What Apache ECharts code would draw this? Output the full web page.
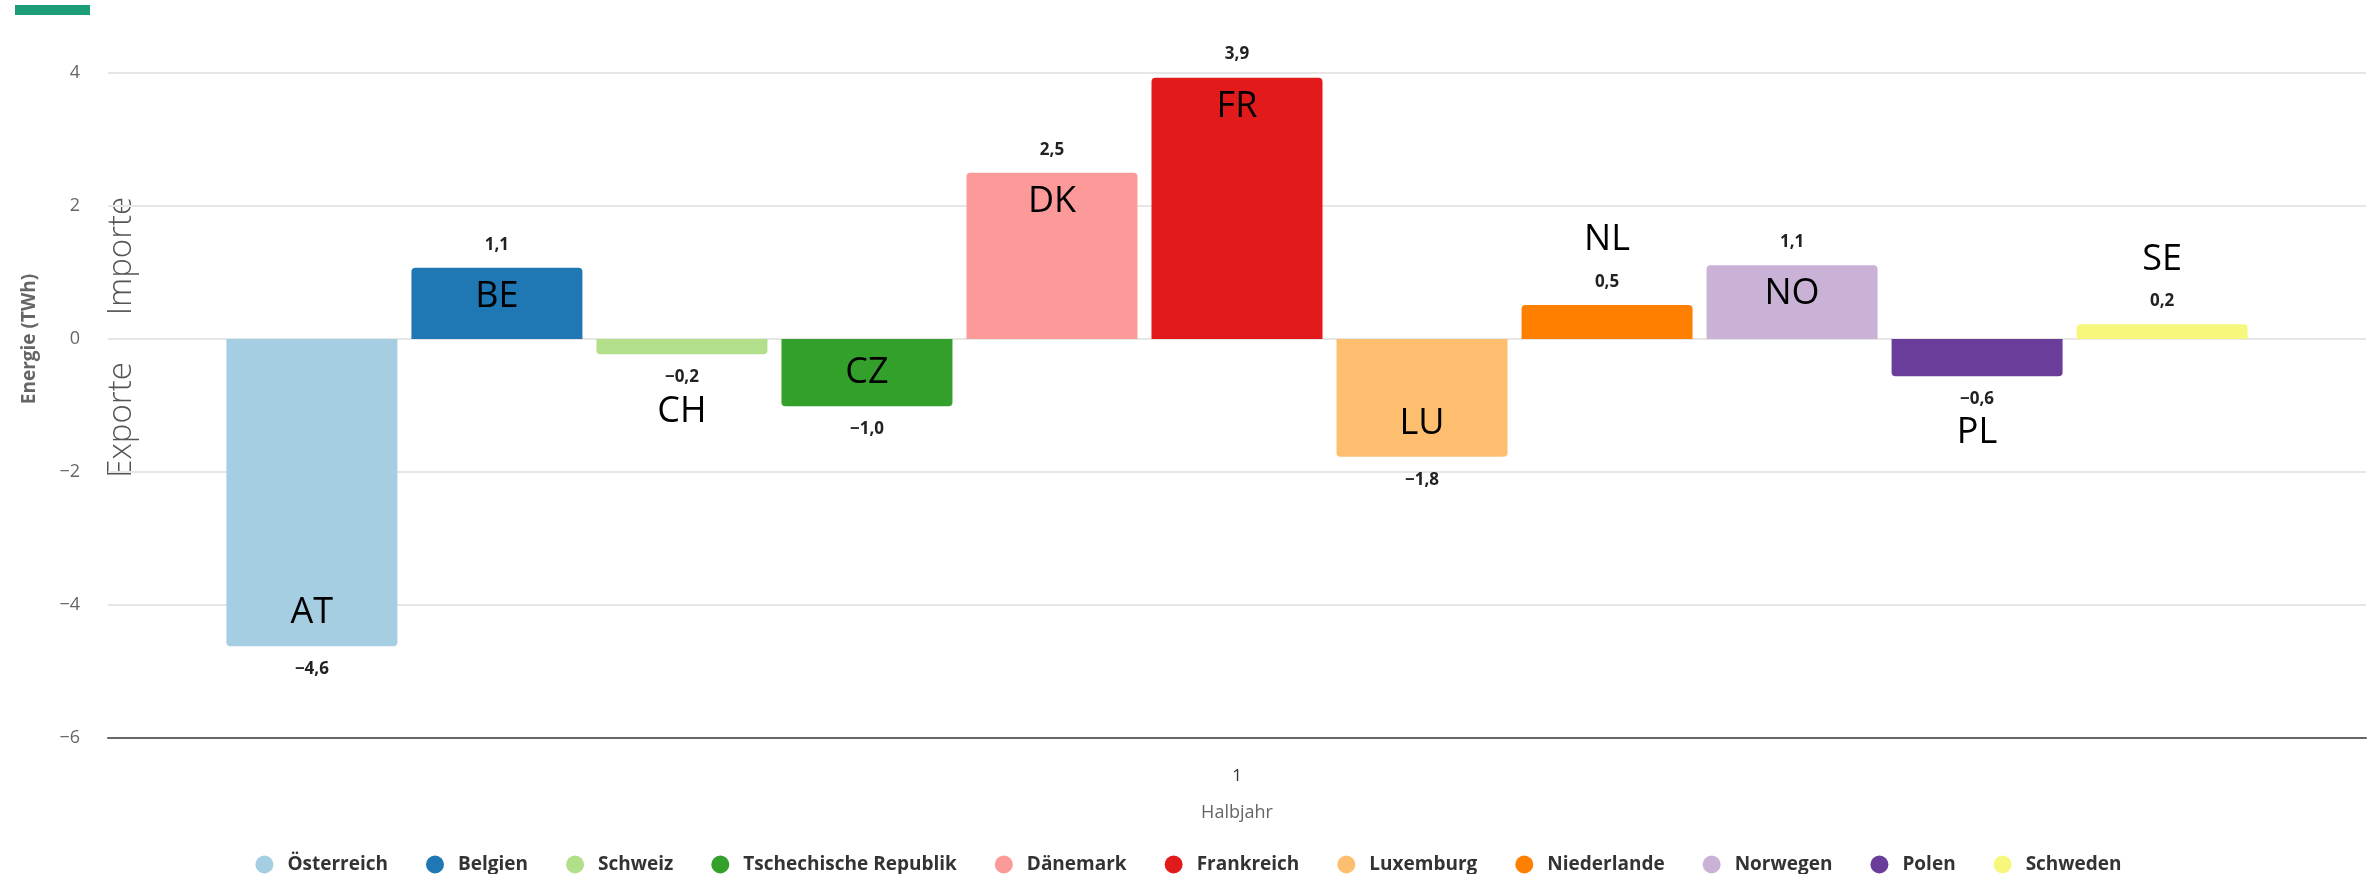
<!DOCTYPE html>
<html>
<head>
<meta charset="utf-8">
<script src="https://cdn.jsdelivr.net/npm/echarts@6/dist/echarts.min.js"></script>
<style>
  html, body { margin: 0; padding: 0; background: #fff; }
  #chart { width: 2377px; height: 874px; }
</style>
</head>
<body>
<div id="chart"></div>
<script>
// ---- data ----
const categories = ['1'];
const countries = ['Österreich', 'Belgien', 'Schweiz', 'Tschechische Republik', 'Dänemark', 'Frankreich', 'Luxemburg', 'Niederlande', 'Norwegen', 'Polen', 'Schweden'];
const codes = ['AT', 'BE', 'CH', 'CZ', 'DK', 'FR', 'LU', 'NL', 'NO', 'PL', 'SE'];
const values = [-4.62, 1.07, -0.23, -1.01, 2.50, 3.93, -1.77, 0.51, 1.11, -0.56, 0.22];
const colors = ['#a6cee3', '#1f78b4', '#b2df8a', '#33a02c', '#fb9a99', '#e31a1c', '#fdbf6f', '#ff7f00', '#cab2d6', '#6a3d9a', '#f7f77b'];
const yMin = -6, yMax = 4, yStep = 2;
const yAxisTitle = 'Energie (TWh)';
const xAxisTitle = 'Halbjahr';
const sideLabels = ['Importe', 'Exporte'];

// ---- helpers ----
const FONT = "'Open Sans', 'Noto Sans', sans-serif";
function fmt(v) {
  return v.toFixed(1).replace('.', ',').replace('-', '\u2212');
}

const series = countries.map((name, i) => {
  const v = values[i];
  const pos = v >= 0;
  const inside = Math.abs(v) >= 0.9;
  let dy;
  if (inside) dy = pos ? 29 : -33;
  else dy = pos ? -65 : 57;
  return {
    name: name,
    type: 'bar',
    barWidth: 171,
    barGap: '8.2%',
    color: colors[i],
    data: [{
      value: v,
      itemStyle: { borderRadius: pos ? [4, 4, 0, 0] : [0, 0, 4, 4] },
      label: { position: pos ? 'top' : 'bottom' }
    }],
    label: {
      show: true,
      distance: 13,
      fontFamily: FONT,
      fontSize: 17,
      fontWeight: 'bold',
      lineHeight: 20,
      color: '#222',
      formatter: p => fmt(p.value)
    },
    markPoint: {
      symbol: 'circle',
      symbolSize: 0,
      silent: true,
      animation: false,
      itemStyle: { color: 'rgba(0,0,0,0)' },
      label: {
        show: true,
        position: 'inside',
        offset: [0, dy],
        fontFamily: FONT,
        fontSize: 36,
        fontWeight: 'normal',
        color: '#000',
        formatter: () => codes[i]
      },
      data: [{ coord: [categories[0], v] }]
    }
  };
});

const chart = echarts.init(document.getElementById('chart'));
chart.setOption({
  animation: false,
  backgroundColor: '#fff',
  textStyle: { fontFamily: FONT },
  grid: { left: 108, right: 11, top: 73, bottom: 136, containLabel: false },
  legend: {
    data: countries,
    left: 'center',
    top: 850,
    icon: 'circle',
    itemWidth: 36,
    itemHeight: 18,
    itemGap: 38,
    textStyle: { fontFamily: FONT, fontSize: 19, fontWeight: 'bold', color: '#333' }
  },
  xAxis: {
    type: 'category',
    data: categories,
    name: xAxisTitle,
    nameLocation: 'middle',
    nameGap: 66,
    nameTextStyle: { fontFamily: FONT, fontSize: 18, color: '#666' },
    axisLine: { onZero: false, lineStyle: { color: '#666', width: 2 } },
    axisTick: { show: false },
    axisLabel: { margin: 30, fontFamily: FONT, fontSize: 17, color: '#333' }
  },
  yAxis: {
    type: 'value',
    min: yMin,
    max: yMax,
    interval: yStep,
    axisLine: { show: false },
    axisTick: { show: false },
    splitLine: { lineStyle: { color: '#e6e6e6', width: 2 } },
    axisLabel: {
      margin: 28,
      fontFamily: FONT,
      fontSize: 18,
      color: '#666',
      formatter: v => String(v).replace('-', '\u2212')
    }
  },
  graphic: [
    { type: 'rect', left: 15, top: 5, shape: { width: 75, height: 10 }, style: { fill: '#1b9e77' } },
    { type: 'text', x: 30, y: 339, rotation: Math.PI / 2,
      style: { text: yAxisTitle, font: "bold 19px 'Open Sans'", fill: '#666', align: 'center', verticalAlign: 'middle' } },
    { type: 'text', x: 122, y: 256, rotation: Math.PI / 2,
      style: { text: sideLabels[0], fontFamily: 'Open Sans', fontSize: 33, fontWeight: 300, fill: '#555', align: 'center', verticalAlign: 'middle' } },
    { type: 'line', shape: { x1: 111, y1: 339, x2: 140, y2: 339 }, style: { stroke: '#555', lineWidth: 2 } },
    { type: 'text', x: 122, y: 420, rotation: Math.PI / 2,
      style: { text: sideLabels[1], fontFamily: 'Open Sans', fontSize: 33, fontWeight: 300, fill: '#555', align: 'center', verticalAlign: 'middle' } }
  ],
  series: series
});
</script>
</body>
</html>
